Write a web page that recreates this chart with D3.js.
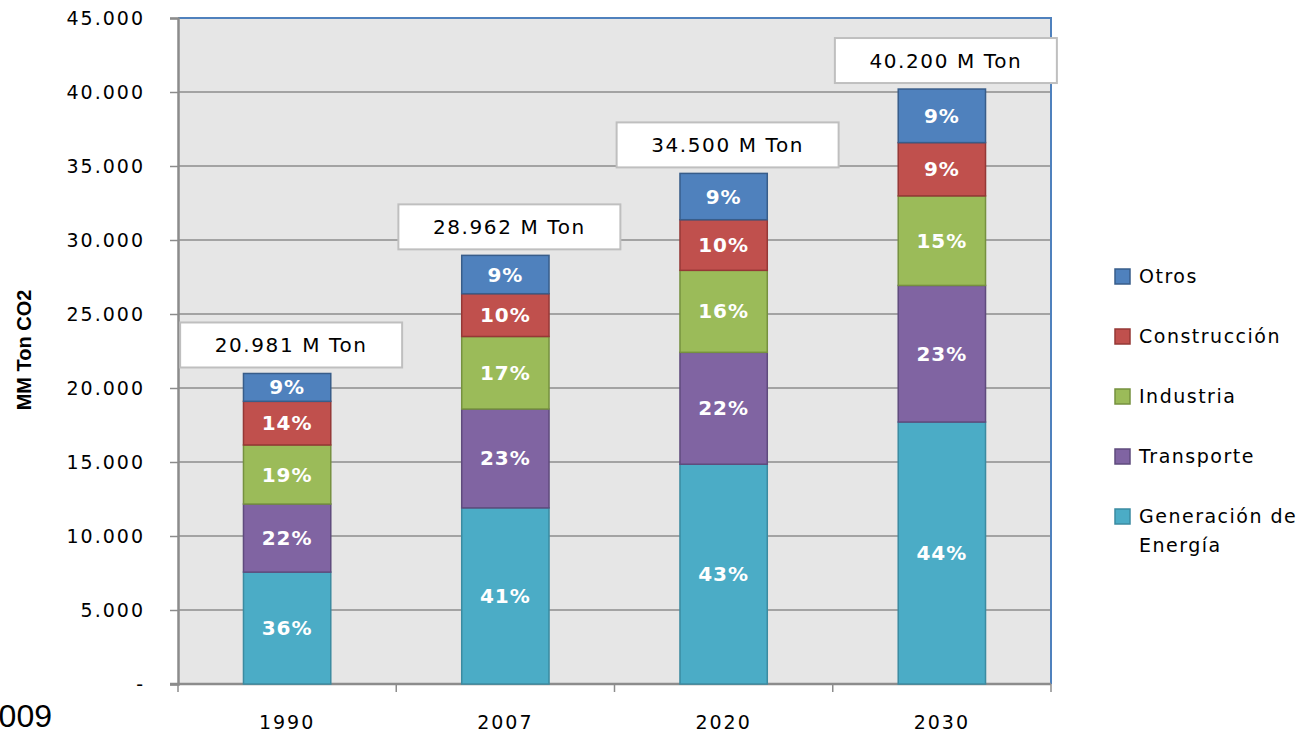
<!DOCTYPE html>
<html>
<head>
<meta charset="utf-8">
<script src="https://cdn.jsdelivr.net/npm/d3@7"></script>
<style>
  html, body { margin: 0; padding: 0; background: #fff; }
  svg { display: block; font-family: "DejaVu Sans", Verdana, sans-serif; }
</style>
</head>
<body>
<svg id="chart" width="1308" height="732"></svg>
<script>
// data
const years = ["1990", "2007", "2020", "2030"];
const sectors = ["Generación de Energía", "Transporte", "Industria", "Construcción", "Otros"];
const generacion   = [7560, 11900, 14850, 17700];
const transporte   = [4600, 6680, 7560, 9230];
const industria    = [3990, 4900, 5540, 6050];
const construccion = [2950, 2890, 3420, 3600];
const otros        = [1881, 2592, 3130, 3620];
const yTicks = [0, 5000, 10000, 15000, 20000, 25000, 30000, 35000, 40000, 45000];

const colors = ["#4BACC6", "#8064A2", "#9BBB59", "#C0504D", "#4F81BD"];
const strokes = ["#3B8BA1", "#5F4B7D", "#76913F", "#953836", "#385D8A"];

const rows = years.map((y, i) => ({
  year: y,
  "Generación de Energía": generacion[i],
  "Transporte": transporte[i],
  "Industria": industria[i],
  "Construcción": construccion[i],
  "Otros": otros[i]
}));
rows.forEach(r => r.total = d3.sum(sectors, s => r[s]));

const svg = d3.select("#chart");
const plotL = 178, plotR = 1051, plotT = 18, plotB = 684;

const loc = d3.formatLocale({ decimal: ",", thousands: ".", grouping: [3], currency: ["", ""] });
const fmt = loc.format(",.0f");

const x = d3.scaleBand().domain(years).range([plotL, plotR]).paddingInner(0.6).paddingOuter(0.3);
const y = d3.scaleLinear().domain([0, 45000]).range([plotB, plotT]);

// plot background
svg.append("rect")
  .attr("x", plotL).attr("y", plotT)
  .attr("width", plotR - plotL).attr("height", plotB - plotT)
  .attr("fill", "#E6E6E6");

// gridlines
svg.append("g")
  .selectAll("line")
  .data(yTicks.filter(t => t > 0 && t < 45000))
  .join("line")
  .attr("x1", plotL).attr("x2", plotR)
  .attr("y1", d => y(d)).attr("y2", d => y(d))
  .attr("stroke", "#8C8C8C").attr("stroke-width", 1.5);

// blue top/right border
svg.append("path")
  .attr("d", `M${plotL},${plotT}H${plotR}V${plotB}`)
  .attr("fill", "none").attr("stroke", "#4F81BD").attr("stroke-width", 2);

// y axis
const yAxis = svg.append("g")
  .attr("transform", `translate(${plotL},0)`)
  .call(d3.axisLeft(y).tickValues(yTicks).tickSize(8).tickPadding(25)
    .tickFormat(d => d === 0 ? "-" : fmt(d)));
yAxis.select(".domain").attr("stroke", "#8C8C8C").attr("stroke-width", 2.5);
yAxis.selectAll(".tick line").attr("stroke", "#8C8C8C").attr("stroke-width", 1.5);
yAxis.selectAll(".tick text")
  .attr("font-family", "DejaVu Sans, sans-serif")
  .attr("font-size", 19).attr("letter-spacing", 2).attr("fill", "#000");

// x axis: ticks between categories
const step = x.step();
const xAxisG = svg.append("g").attr("transform", `translate(0,${plotB})`);
xAxisG.append("line")
  .attr("x1", plotL - 8).attr("x2", plotR)
  .attr("stroke", "#8C8C8C").attr("stroke-width", 2.5);
xAxisG.selectAll("line.tk")
  .data(d3.range(years.length + 1))
  .join("line").attr("class", "tk")
  .attr("x1", i => plotL + i * step).attr("x2", i => plotL + i * step)
  .attr("y1", 0).attr("y2", 8)
  .attr("stroke", "#8C8C8C").attr("stroke-width", 1.5);
xAxisG.selectAll("text")
  .data(years)
  .join("text")
  .attr("x", d => x(d) + x.bandwidth() / 2)
  .attr("y", 45)
  .attr("text-anchor", "middle")
  .attr("font-size", 19).attr("letter-spacing", 2)
  .text(d => d);

// stacked bars
const stack = d3.stack().keys(sectors);
const series = stack(rows);

const layers = svg.append("g").selectAll("g")
  .data(series)
  .join("g")
  .attr("fill", (d, i) => colors[i])
  .attr("stroke", (d, i) => strokes[i]);

layers.selectAll("rect")
  .data(d => d)
  .join("rect")
  .attr("x", d => x(d.data.year))
  .attr("y", d => y(d[1]))
  .attr("width", x.bandwidth())
  .attr("height", d => y(d[0]) - y(d[1]))
  .attr("stroke-width", 1.5);

layers.selectAll("text")
  .data(d => d.map(v => ({ v, key: d.key })))
  .join("text")
  .attr("x", d => x(d.v.data.year) + x.bandwidth() / 2)
  .attr("y", d => (y(d.v[0]) + y(d.v[1])) / 2 + 7)
  .attr("text-anchor", "middle")
  .attr("fill", "#fff").attr("stroke", "none")
  .attr("font-weight", "bold").attr("font-size", 20).attr("letter-spacing", 1)
  .text(d => Math.round(100 * d.v.data[d.key] / d.v.data.total) + "%");

// total boxes
const boxW = 222, boxH = 45;
const boxes = svg.append("g").selectAll("g")
  .data(rows)
  .join("g")
  .attr("transform", d => `translate(${x(d.year) + x.bandwidth() / 2 - boxW / 2 + 4},${y(d.total) - 6 - boxH})`);
boxes.append("rect")
  .attr("width", boxW).attr("height", boxH)
  .attr("fill", "#fff").attr("stroke", "#BFBFBF").attr("stroke-width", 2);
boxes.append("text")
  .attr("x", boxW / 2).attr("y", boxH / 2 + 7)
  .attr("text-anchor", "middle")
  .attr("font-size", 20).attr("letter-spacing", 1.6)
  .text(d => fmt(d.total) + " M Ton");

// y title
svg.append("text")
  .attr("transform", "translate(31,350) rotate(-90)")
  .attr("text-anchor", "middle")
  .attr("font-family", "Liberation Sans, Arial, sans-serif")
  .attr("font-weight", "bold").attr("font-size", 20)
  .text("MM Ton CO2");

// legend (reverse order, top = Otros)
const legendItems = sectors.map((s, i) => ({ s, i })).reverse();
const legend = svg.append("g").selectAll("g")
  .data(legendItems)
  .join("g")
  .attr("transform", (d, k) => `translate(1114,${283 + k * 60})`);
legend.append("rect")
  .attr("x", 1).attr("y", -14)
  .attr("width", 15).attr("height", 15)
  .attr("fill", d => colors[d.i]).attr("stroke", d => strokes[d.i]).attr("stroke-width", 1.5);
legend.append("text")
  .attr("x", 25).attr("y", 0)
  .attr("font-size", 19).attr("letter-spacing", 1.5)
  .each(function(d) {
    const t = d3.select(this);
    if (d.s === "Generación de Energía") {
      t.append("tspan").attr("x", 25).attr("dy", 0).text("Generación de");
      t.append("tspan").attr("x", 25).attr("dy", 29).text("Energía");
    } else {
      t.text(d.s);
    }
  });

// clipped source year at the lower left
svg.append("text")
  .attr("x", 52).attr("y", 727)
  .attr("text-anchor", "end")
  .attr("font-family", "Liberation Sans, Arial, sans-serif")
  .attr("font-size", 32)
  .text("2009");
</script>
</body>
</html>
